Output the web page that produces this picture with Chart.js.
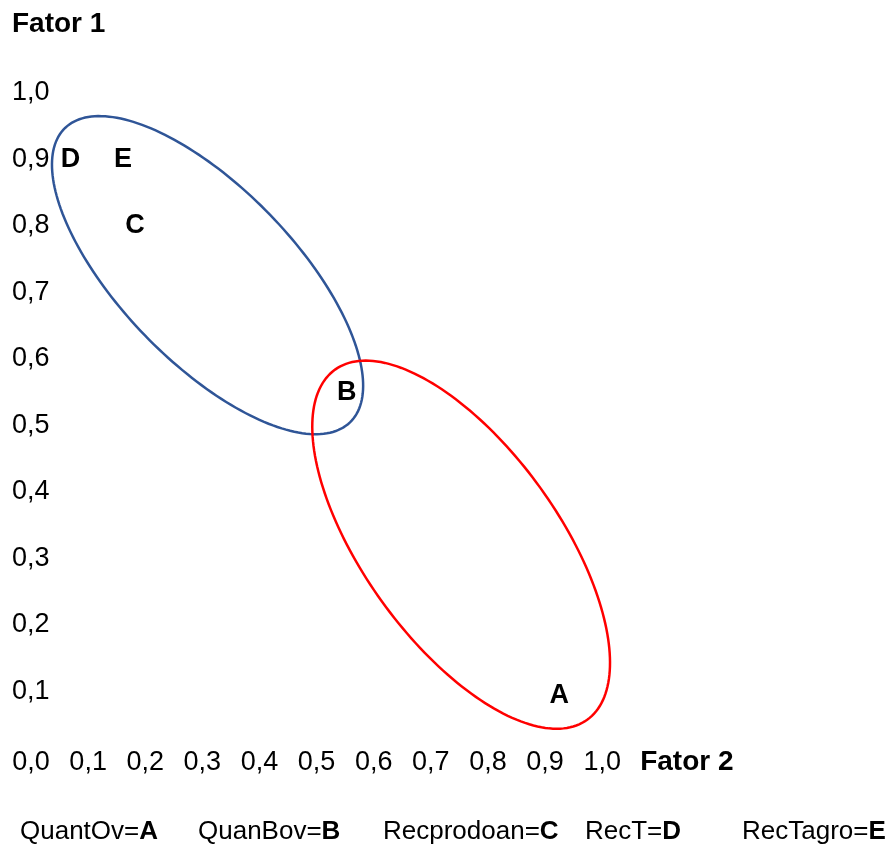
<!DOCTYPE html>
<html lang="pt">
<head>
    <meta charset="UTF-8">
    <meta name="viewport" content="width=device-width, initial-scale=1.0">
    <title>Fator 1 x Fator 2</title>
    <script src="https://cdn.jsdelivr.net/npm/chart.js"></script>
    <style>
        html, body {
            margin: 0;
            padding: 0;
            background: #fff;
        }
        #chart-container {
            width: 896px;
            height: 851px;
        }
    </style>
</head>
<body>
    <div id="chart-container">
        <canvas id="myChart"></canvas>
    </div>

    <script>
        // variables and their letters
        const names = ['QuantOv', 'QuanBov', 'Recprodoan', 'RecT', 'RecTagro'];
        const letters = ['A', 'B', 'C', 'D', 'E'];
        const fator2 = [0.925, 0.553, 0.182, 0.069, 0.161]; // x
        const fator1 = [0.094, 0.549, 0.800, 0.900, 0.900]; // y

        const xTicks = [0.0, 0.1, 0.2, 0.3, 0.4, 0.5, 0.6, 0.7, 0.8, 0.9, 1.0];
        const yTicks = [0.1, 0.2, 0.3, 0.4, 0.5, 0.6, 0.7, 0.8, 0.9, 1.0];

        // group outlines in data units: centre + two half-axis vectors
        const groupBlue = { center: [0.3091, 0.7257], major: [0.2494, -0.2213], minor: [-0.1096, -0.0906] };
        const groupRed = { center: [0.7531, 0.3205], major: [0.2207, -0.2632], minor: [-0.1387, -0.0854] };

        const FONT = '"Liberation Sans", Arial, sans-serif';
        Chart.defaults.font.family = FONT;
        Chart.defaults.color = '#000';

        const fmt = v => v.toFixed(1).replace('.', ',');

        const overlay = {
            id: 'overlay',
            afterDatasetsDraw(chart) {
                const { ctx, scales: { x, y } } = chart;

                [[groupBlue, '#2f5597'], [groupRed, '#ff0000']].forEach(([g, color]) => {
                    ctx.save();
                    ctx.beginPath();
                    for (let i = 0; i <= 200; i++) {
                        const t = i / 200 * Math.PI * 2;
                        const dx = g.center[0] + g.major[0] * Math.cos(t) + g.minor[0] * Math.sin(t);
                        const dy = g.center[1] + g.major[1] * Math.cos(t) + g.minor[1] * Math.sin(t);
                        const px = x.getPixelForValue(dx);
                        const py = y.getPixelForValue(dy);
                        if (i === 0) ctx.moveTo(px, py); else ctx.lineTo(px, py);
                    }
                    ctx.closePath();
                    ctx.strokeStyle = color;
                    ctx.lineWidth = 2.5;
                    ctx.stroke();
                    ctx.restore();
                });

                // letters on the points
                const meta = chart.getDatasetMeta(0);
                ctx.save();
                ctx.font = 'bold 27px ' + FONT;
                ctx.fillStyle = '#000';
                ctx.textAlign = 'center';
                ctx.textBaseline = 'middle';
                meta.data.forEach((pt, i) => ctx.fillText(letters[i], pt.x, pt.y));
                ctx.restore();
            },
            afterDraw(chart) {
                const { ctx, scales: { x } } = chart;
                ctx.save();
                ctx.fillStyle = '#000';
                ctx.textBaseline = 'middle';
                ctx.textAlign = 'left';

                // axis name on the x tick row, after the last tick
                ctx.font = 'bold 28px ' + FONT;
                ctx.fillText('Fator 2', x.getPixelForValue(1.0) + 38, x.top + 3 + 27 * 1.2 / 2);

                // key under the chart
                const starts = [20, 198, 383, 585, 742];
                names.forEach((n, i) => {
                    ctx.font = '26px ' + FONT;
                    const label = n + '=';
                    ctx.fillText(label, starts[i], 832);
                    const w = ctx.measureText(label).width;
                    ctx.font = 'bold 26px ' + FONT;
                    ctx.fillText(letters[i], starts[i] + w, 832);
                });
                ctx.restore();
            }
        };

        const ctx = document.getElementById('myChart').getContext('2d');
        new Chart(ctx, {
            type: 'scatter',
            data: {
                datasets: [{
                    data: fator2.map((v, i) => ({ x: v, y: fator1[i] })),
                    pointRadius: 0,
                    pointHoverRadius: 0
                }]
            },
            options: {
                responsive: true,
                maintainAspectRatio: false,
                animation: false,
                layout: { padding: { left: 12, right: 10, top: 0, bottom: 69.5 } },
                plugins: {
                    legend: { display: false },
                    tooltip: { enabled: false },
                    title: {
                        display: true,
                        text: 'Fator 1',
                        align: 'start',
                        color: '#000',
                        font: { size: 28, weight: 'bold' },
                        padding: { top: 7, bottom: 8 }
                    }
                },
                scales: {
                    x: {
                        type: 'linear',
                        min: -0.0333,
                        max: 1.497,
                        grid: { display: false, drawTicks: false },
                        border: { display: false },
                        afterBuildTicks: s => { s.ticks = xTicks.map(v => ({ value: v })); },
                        ticks: {
                            color: '#000',
                            font: { size: 27 },
                            padding: 3,
                            autoSkip: false,
                            maxRotation: 0,
                            callback: v => fmt(v)
                        }
                    },
                    y: {
                        type: 'linear',
                        min: 0.0222,
                        max: 1.0663,
                        grid: { display: false, drawTicks: false },
                        border: { display: false },
                        afterBuildTicks: s => { s.ticks = yTicks.map(v => ({ value: v })); },
                        ticks: {
                            color: '#000',
                            font: { size: 27 },
                            mirror: true,
                            padding: 0,
                            autoSkip: false,
                            callback: v => fmt(v)
                        }
                    }
                }
            },
            plugins: [overlay]
        });
    </script>
</body>
</html>
